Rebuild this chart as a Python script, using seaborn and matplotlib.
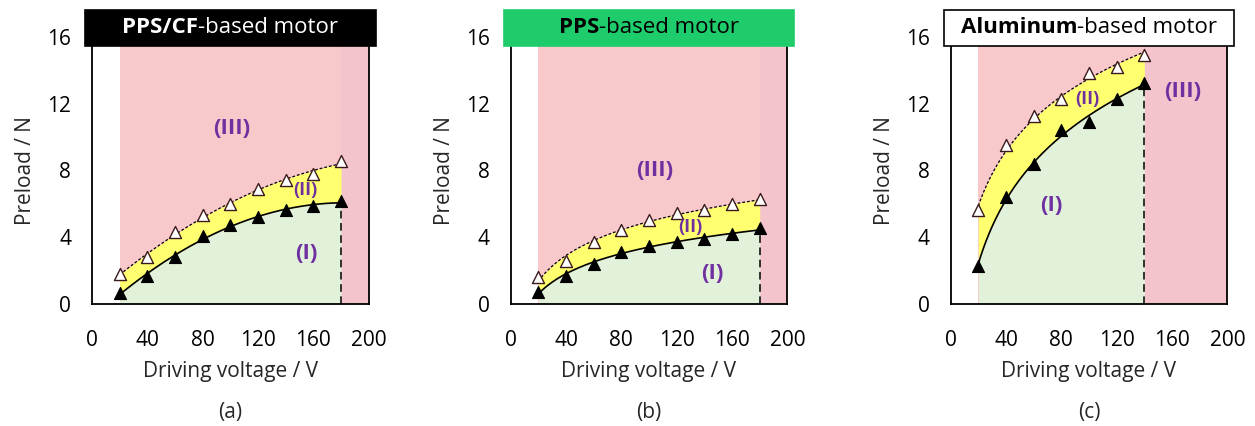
import numpy as np
import pandas as pd
import matplotlib
matplotlib.use("Agg")
import matplotlib.pyplot as plt
from matplotlib.patches import Rectangle
import seaborn as sns

sns.set_theme(style="white")
plt.rcParams['font.family'] = ['Open Sans', 'DejaVu Sans']

# ---------------- data ----------------
voltage_ab = [20, 40, 60, 80, 100, 120, 140, 160, 180]
voltage_c = [20, 40, 60, 80, 100, 120, 140]

lower_a = [0.65, 1.7, 2.8, 4.05, 4.75, 5.2, 5.6, 5.85, 6.15]
upper_a = [1.8, 2.8, 4.3, 5.3, 6.0, 6.9, 7.4, 7.8, 8.55]

lower_b = [0.7, 1.7, 2.4, 3.1, 3.5, 3.7, 3.9, 4.2, 4.55]
upper_b = [1.6, 2.6, 3.7, 4.45, 5.0, 5.45, 5.6, 6.0, 6.3]

lower_c = [2.3, 6.4, 8.4, 10.4, 10.9, 12.3, 13.2]
upper_c = [5.6, 9.5, 11.25, 12.25, 13.8, 14.2, 14.9]

titles_bold = ["PPS/CF", "PPS", "Aluminum"]
titles_rest = ["-based motor", "-based motor", "-based motor"]
panel_letters = ["(a)", "(b)", "(c)"]
fit_kind = ["quad", "log", "log"]

# region label positions (x, y)
lab_pos = [
    {"(III)": (101, 10.5), "(II)": (154, 6.8), "(I)": (155, 3.0)},
    {"(III)": (104, 8.0), "(II)": (130, 4.6), "(I)": (146, 1.8)},
    {"(III)": (168, 12.7), "(II)": (99, 12.3), "(I)": (73, 5.9)},
]
lab_size = {"(III)": 16, "(II)": 13, "(I)": 16}

box_styles = [
    dict(face="black", edge="black", text="white"),
    dict(face="#1ECC6B", edge="#1ECC6B", text="black"),
    dict(face="white", edge="black", text="black"),
]

PINK = "#F9C8CB"
PINK2 = "#F4C4CD"
GREEN = "#E2F1D9"
YELLOW = "#FFFF70"
PURPLE = "#7030A0"

FS = 15

fig = plt.figure(figsize=(12.55, 4.26), dpi=100)
lefts = [0.0733, 0.4069, 0.7575]
axes = [fig.add_axes([l, 0.2864, 0.2205, 0.6274]) for l in lefts]

def fit(x, y, kind, xs):
    x = np.asarray(x, float); y = np.asarray(y, float)
    if kind == "quad":
        p = np.polyfit(x, y, 2)
        return np.polyval(p, xs)
    p = np.polyfit(np.log(x), y, 1)
    return np.polyval(p, np.log(xs))

datasets = [
    (voltage_ab, lower_a, upper_a),
    (voltage_ab, lower_b, upper_b),
    (voltage_c, lower_c, upper_c),
]

text_items = []
for i, ax in enumerate(axes):
    xv, lo, up = datasets[i]
    xmin, xmax = xv[0], xv[-1]
    xs = np.linspace(xmin, xmax, 200)
    lo_fit = fit(xv, lo, fit_kind[i], xs)
    up_fit = fit(xv, up, fit_kind[i], xs)

    ax.set_xlim(0, 200)
    ax.set_ylim(0, 16)
    ax.axvspan(xmin, xmax, color=PINK, lw=0, zorder=0)
    ax.axvspan(xmax, 200, color=PINK2, lw=0, zorder=0)
    ax.fill_between(xs, 0, lo_fit, color=GREEN, lw=0, zorder=1)
    ax.fill_between(xs, lo_fit, up_fit, color=YELLOW, lw=0, zorder=1)

    fit_df = pd.DataFrame({"x": xs, "lo": lo_fit, "up": up_fit})
    sns.lineplot(data=fit_df, x="x", y="lo", ax=ax, color="black", lw=1.2, zorder=3)
    sns.lineplot(data=fit_df, x="x", y="up", ax=ax, color="black", lw=0.9,
                 linestyle=(0, (2.2, 1.6)), zorder=3)
    ax.plot([xmax, xmax], [0, lo_fit[-1]], color="black", lw=1.1,
            linestyle=(0, (5, 3)), zorder=2)

    pts = pd.DataFrame({"x": xv, "lo": lo, "up": up})
    sns.scatterplot(data=pts, x="x", y="up", ax=ax, marker="^", s=75,
                    facecolor="white", edgecolor="#3a1a1a", linewidth=1.0, zorder=4)
    sns.scatterplot(data=pts, x="x", y="lo", ax=ax, marker="^", s=75,
                    color="black", edgecolor="black", linewidth=0.8, zorder=4)

    for lab, (lx, ly) in lab_pos[i].items():
        ax.text(lx, ly, lab, color=PURPLE, fontweight="bold", fontsize=lab_size[lab],
                ha="center", va="center", zorder=5)

    ax.set_xticks([0, 40, 80, 120, 160, 200])
    ax.set_yticks([0, 4, 8, 12, 16])
    ax.tick_params(axis="both", direction="in", length=5, width=1.2,
                   labelsize=FS, colors="black")
    ax.tick_params(axis="x", pad=19)
    ax.tick_params(axis="y", pad=15)
    ax.set_xlabel("Driving voltage / V", fontsize=FS, labelpad=7)
    ax.set_ylabel("Preload / N", fontsize=FS, labelpad=8)
    for s in ["left", "bottom", "right"]:
        ax.spines[s].set_visible(True)
        ax.spines[s].set_color("black")
        ax.spines[s].set_linewidth(1.3)
    ax.spines["top"].set_visible(False)

    # title box (axes coordinates)
    st = box_styles[i]
    rect = Rectangle((-0.025, 0.966), 1.05, 0.134, transform=ax.transAxes,
                     facecolor=st["face"], edgecolor=st["edge"], lw=1.2,
                     clip_on=False, zorder=10)
    ax.add_patch(rect)
    tb = ax.text(0.5, 1.034, titles_bold[i], transform=ax.transAxes,
                 fontsize=16, fontweight="bold", color=st["text"],
                 ha="left", va="center", zorder=11)
    tr = ax.text(0.5, 1.034, titles_rest[i], transform=ax.transAxes,
                 fontsize=16, color=st["text"], ha="left", va="center", zorder=11)
    text_items.append((ax, tb, tr))

    ax.text(0.5, -0.405, panel_letters[i], transform=ax.transAxes,
            fontsize=FS, ha="center", va="center")

fig.canvas.draw()
r = fig.canvas.get_renderer()
for ax, tb, tr in text_items:
    wb = tb.get_window_extent(r).width
    wr = tr.get_window_extent(r).width
    axw = ax.get_window_extent(r).width
    total = (wb + wr) / axw
    start = 0.5 - total / 2
    tb.set_x(start)
    tr.set_x(start + wb / axw)

fig.savefig("out.png", dpi=100)
